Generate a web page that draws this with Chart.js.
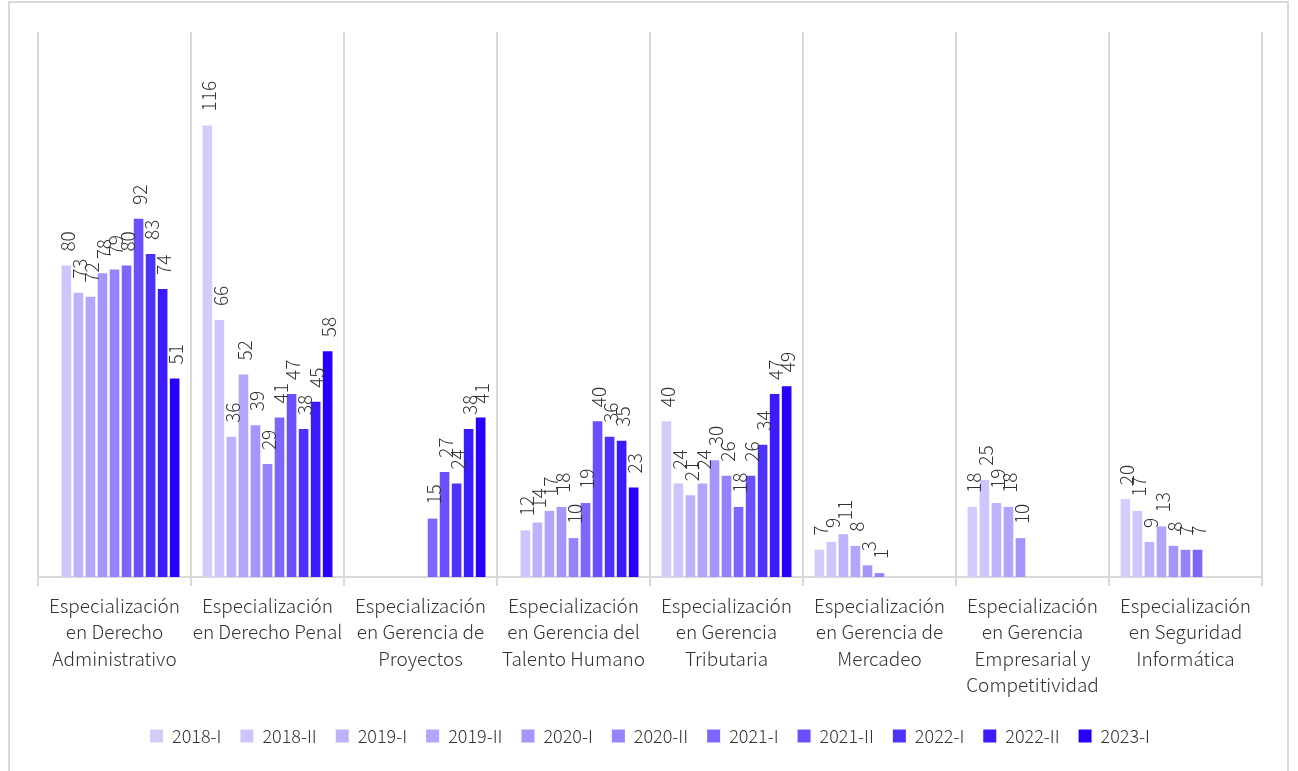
<!DOCTYPE html>
<html>
<head>
<meta charset="utf-8">
<script src="https://cdn.jsdelivr.net/npm/chart.js@4/dist/chart.umd.min.js"></script>
<style>
  html, body { margin: 0; padding: 0; background: #ffffff; }
  #wrap { position: relative; width: 1298px; height: 771px; overflow: hidden; }
  #frame { position: absolute; left: 8px; top: 1px; width: 1281px; height: 800px; border: 2px solid #d9d9d9; box-sizing: border-box; }
  #cv { position: absolute; left: 0; top: 0; }
</style>
</head>
<body>
<div id="wrap">
  <div id="frame"></div>
  <canvas id="cv" width="1298" height="771"></canvas>
</div>
<script>
const categories = [
  ["Especialización", "en Derecho", "Administrativo"],
  ["Especialización", "en Derecho Penal"],
  ["Especialización", "en Gerencia de", "Proyectos"],
  ["Especialización", "en Gerencia del", "Talento Humano"],
  ["Especialización", "en Gerencia", "Tributaria"],
  ["Especialización", "en Gerencia de", "Mercadeo"],
  ["Especialización", "en Gerencia", "Empresarial y", "Competitividad"],
  ["Especialización", "en Seguridad", "Informática"]
];
const periods = ["2018-I","2018-II","2019-I","2019-II","2020-I","2020-II","2021-I","2021-II","2022-I","2022-II","2023-I"];
const colors = ["#d3cdfc","#cdc6fc","#bcb3fc","#b1a6fc","#a596fc","#9683fc","#7c66fc","#6a50fc","#4d32fc","#3a1bfc","#2600fc"];

// values per period, one entry per category (null = no bar)
const v2018_I  = [null, 116, null, null, 40, 7, 18, 20];
const v2018_II = [80, 66, null, 12, 24, 9, 25, 17];
const v2019_I  = [73, 36, null, 14, 21, 11, 19, 9];
const v2019_II = [72, 52, null, 17, 24, 8, 18, 13];
const v2020_I  = [78, 39, null, 18, 30, 3, 10, 8];
const v2020_II = [79, 29, null, 10, 26, 1, null, 7];
const v2021_I  = [80, 41, 15, 19, 18, null, null, 7];
const v2021_II = [92, 47, 27, 40, 26, null, null, null];
const v2022_I  = [83, 38, 24, 36, 34, null, null, null];
const v2022_II = [74, 45, 38, 35, 47, null, null, null];
const v2023_I  = [51, 58, 41, 23, 49, null, null, null];
const seriesValues = [v2018_I, v2018_II, v2019_I, v2019_II, v2020_I, v2020_II, v2021_I, v2021_II, v2022_I, v2022_II, v2023_I];

const FONT = "'Noto Sans CJK SC', 'Noto Sans', sans-serif";
const TXT = "#333333";

const datasets = periods.map((p, i) => ({
  label: p,
  data: seriesValues[i],
  backgroundColor: colors[i],
  borderWidth: 0,
  categoryPercentage: 0.865,
  barPercentage: 0.8
}));

const valueLabels = {
  id: 'valueLabels',
  afterDatasetsDraw(chart) {
    const ctx = chart.ctx;
    ctx.save();
    ctx.font = "300 19px " + FONT;
    ctx.fillStyle = TXT;
    ctx.textAlign = 'left';
    ctx.textBaseline = 'middle';
    chart.data.datasets.forEach((ds, di) => {
      const meta = chart.getDatasetMeta(di);
      meta.data.forEach((el, idx) => {
        const val = ds.data[idx];
        if (val === null || val === undefined) return;
        ctx.save();
        ctx.translate(el.x + 1, el.y - 14);
        ctx.rotate(-Math.PI / 2);
        ctx.fillText(String(val), 0, 0);
        ctx.restore();
      });
    });
    ctx.restore();
  }
};

new Chart(document.getElementById('cv'), {
  type: 'bar',
  data: { labels: categories, datasets },
  plugins: [valueLabels],
  options: {
    responsive: false,
    animation: false,
    layout: { padding: { left: 38, right: 36, top: 32, bottom: 16 } },
    plugins: {
      legend: {
        position: 'bottom',
        labels: {
          boxWidth: 13, boxHeight: 13, padding: 19,
          color: TXT,
          font: { family: FONT, size: 18, weight: 300 }
        }
      },
      tooltip: { enabled: false }
    },
    scales: {
      x: {
        grid: { display: true, offset: true, color: '#d9d9d9', lineWidth: 2, tickLength: 9, drawOnChartArea: true },
        border: { display: true, color: '#d9d9d9', width: 2 },
        ticks: {
          color: TXT, maxRotation: 0, minRotation: 0, autoSkip: false, padding: 6,
          font: { family: FONT, size: 19, weight: 300, lineHeight: 1.4 }
        },
        afterFit(scale) { scale.height = 131; }
      },
      y: {
        display: false,
        min: 0, max: 140,
        grid: { display: false }
      }
    }
  }
});
</script>
</body>
</html>
